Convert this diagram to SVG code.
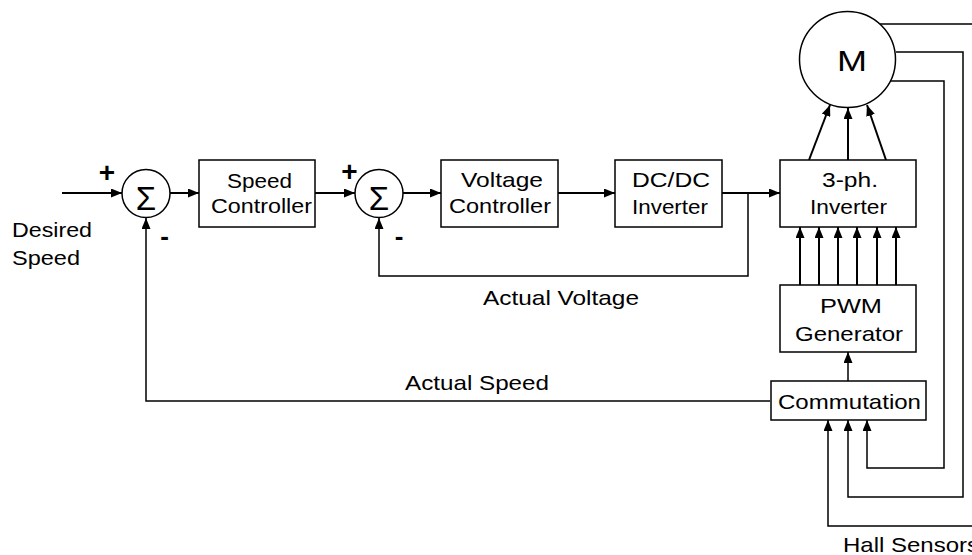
<svg xmlns="http://www.w3.org/2000/svg" width="972" height="555" viewBox="0 0 972 555">
<style>
  .box { fill: #fff; stroke: #000; stroke-width: 1.5; }
  .t { font-family: "Liberation Sans", Arial, sans-serif; font-size: 21px; fill: #000; }
  .c { text-anchor: middle; }
  .sig { font-size: 33px; }
  .pl { font-size: 28px; font-weight: bold; }
  .mi { font-size: 26px; font-weight: bold; }
  .m { font-size: 30px; }
  .fw { fill: none; stroke: #000; stroke-width: 2; marker-end: url(#ah); }
  .fba { fill: none; stroke: #000; stroke-width: 1.5; marker-end: url(#ah); }
</style>
<defs>
  <marker id="ah" markerUnits="userSpaceOnUse" markerWidth="11" markerHeight="9" refX="11" refY="4.5" orient="auto">
    <path d="M0,0 L11,4.5 L0,9 z" fill="#000"/>
  </marker>
</defs>
<rect width="972" height="555" fill="#fff"/>

<g id="connectors">
  <line class="fw" x1="62" y1="193" x2="122" y2="193"/>
  <line class="fw" x1="170" y1="193" x2="199" y2="193"/>
  <line class="fw" x1="315" y1="193" x2="355" y2="193"/>
  <line class="fw" x1="403" y1="193" x2="441" y2="193"/>
  <line class="fw" x1="558" y1="193" x2="615" y2="193"/>
  <line class="fw" x1="722" y1="193" x2="780" y2="193"/>
  <path class="fba" d="M748,193 L748,276 L379,276 L379,218"/>
  <path class="fba" d="M770,401 L146,401 L146,218"/>
  <line class="fw" x1="809" y1="160" x2="830" y2="105"/>
  <line class="fw" x1="848" y1="160" x2="848" y2="108"/>
  <line class="fw" x1="886" y1="160" x2="867" y2="105"/>
  <line class="fw" x1="800" y1="285" x2="800" y2="227"/>
  <line class="fw" x1="819" y1="285" x2="819" y2="227"/>
  <line class="fw" x1="838" y1="285" x2="838" y2="227"/>
  <line class="fw" x1="857" y1="285" x2="857" y2="227"/>
  <line class="fw" x1="877" y1="285" x2="877" y2="227"/>
  <line class="fw" x1="896" y1="285" x2="896" y2="227"/>
  <line class="fba" x1="848" y1="381" x2="848" y2="352"/>
  <path class="fba" d="M890,81 L944,81 L944,468 L867,468 L867,420"/>
  <path class="fba" d="M896,52 L963,52 L963,497 L848,497 L848,420"/>
  <path class="fba" d="M880,24 L976,24 L976,526 L828,526 L828,420"/>
</g>

<g id="sum1">
  <circle cx="146" cy="193.5" r="24" fill="#fff" stroke="#000" stroke-width="1.5"/>
  <text class="t c sig" x="146" y="210">Σ</text>
  <text class="t c pl" x="107" y="182">+</text>
  <text class="t c mi" x="164.5" y="245">-</text>
</g>
<g id="sum2">
  <circle cx="379" cy="193.5" r="24" fill="#fff" stroke="#000" stroke-width="1.5"/>
  <text class="t c sig" x="379" y="210">Σ</text>
  <text class="t c pl" x="349.5" y="181">+</text>
  <text class="t c mi" x="399" y="245">-</text>
</g>
<g id="desired">
  <text class="t" x="12" y="237" textLength="80" lengthAdjust="spacingAndGlyphs">Desired</text>
  <text class="t" x="12" y="265" textLength="68" lengthAdjust="spacingAndGlyphs">Speed</text>
</g>
<g id="speed-controller">
  <rect class="box" x="199" y="160" width="116" height="67"/>
  <text class="t" x="227" y="188" textLength="65" lengthAdjust="spacingAndGlyphs">Speed</text>
  <text class="t" x="211" y="213" textLength="101" lengthAdjust="spacingAndGlyphs">Controller</text>
</g>
<g id="voltage-controller">
  <rect class="box" x="441" y="160" width="117" height="67"/>
  <text class="t" x="461" y="187" textLength="82" lengthAdjust="spacingAndGlyphs">Voltage</text>
  <text class="t" x="449" y="213" textLength="102" lengthAdjust="spacingAndGlyphs">Controller</text>
</g>
<g id="dcdc">
  <rect class="box" x="615" y="160" width="107" height="67"/>
  <text class="t" x="632" y="187" textLength="78" lengthAdjust="spacingAndGlyphs">DC/DC</text>
  <text class="t" x="632" y="214" textLength="76" lengthAdjust="spacingAndGlyphs">Inverter</text>
</g>
<g id="inverter3">
  <rect class="box" x="780" y="160" width="136" height="67"/>
  <text class="t" x="822" y="187" textLength="56" lengthAdjust="spacingAndGlyphs">3-ph.</text>
  <text class="t" x="810" y="214" textLength="77" lengthAdjust="spacingAndGlyphs">Inverter</text>
</g>
<g id="motor">
  <circle cx="847.5" cy="59.5" r="48" fill="#fff" stroke="#000" stroke-width="1.5"/>
  <text class="t m" x="837" y="71" textLength="30" lengthAdjust="spacingAndGlyphs">M</text>
</g>
<g id="pwm">
  <rect class="box" x="780" y="285" width="136" height="67"/>
  <text class="t" x="820" y="313" textLength="62" lengthAdjust="spacingAndGlyphs">PWM</text>
  <text class="t" x="795" y="341" textLength="108" lengthAdjust="spacingAndGlyphs">Generator</text>
</g>
<g id="commutation">
  <rect class="box" x="771" y="381" width="155" height="39"/>
  <text class="t" x="778" y="409" textLength="143" lengthAdjust="spacingAndGlyphs">Commutation</text>
</g>
<g id="labels">
  <text class="t" x="483" y="305" textLength="156" lengthAdjust="spacingAndGlyphs">Actual Voltage</text>
  <text class="t" x="405" y="390" textLength="144" lengthAdjust="spacingAndGlyphs">Actual Speed</text>
  <text class="t" x="843" y="552" textLength="136" lengthAdjust="spacingAndGlyphs">Hall Sensors</text>
</g>
</svg>
